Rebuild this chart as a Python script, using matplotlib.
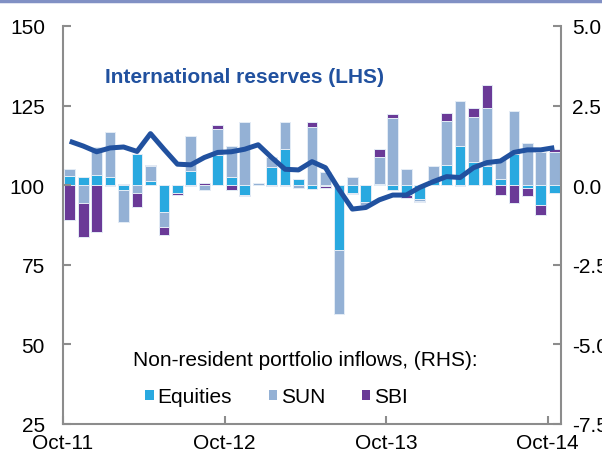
import matplotlib
matplotlib.use("Agg")
import matplotlib.pyplot as plt
from matplotlib.patches import Patch
from matplotlib.lines import Line2D
import numpy as np

plt.rcParams['font.family'] = ['Liberation Sans', 'DejaVu Sans']

# monthly data, Oct-11 .. Oct-14
months = ['Oct-11', 'Nov-11', 'Dec-11', 'Jan-12', 'Feb-12', 'Mar-12', 'Apr-12', 'May-12',
          'Jun-12', 'Jul-12', 'Aug-12', 'Sep-12', 'Oct-12', 'Nov-12', 'Dec-12', 'Jan-13',
          'Feb-13', 'Mar-13', 'Apr-13', 'May-13', 'Jun-13', 'Jul-13', 'Aug-13', 'Sep-13',
          'Oct-13', 'Nov-13', 'Dec-13', 'Jan-14', 'Feb-14', 'Mar-14', 'Apr-14', 'May-14',
          'Jun-14', 'Jul-14', 'Aug-14', 'Sep-14', 'Oct-14']

# international reserves (LHS)
reserves = [113.8, 112.3, 110.5, 111.7, 112.0, 110.6, 116.2, 111.3, 106.6, 106.4,
            108.7, 110.3, 110.5, 111.3, 112.7, 108.7, 105.0, 104.8, 107.4, 105.5,
            98.7, 92.5, 93.0, 95.4, 96.9, 96.9, 99.3, 101.1, 102.7, 102.4,
            105.5, 107.1, 107.6, 110.3, 111.1, 111.1, 111.8]

# non-resident portfolio inflows (RHS)
equities = [0.29, 0.26, 0.31, 0.25, -0.15, 0.97, 0.14, -0.83, -0.23, 0.45,
            0.01, 0.94, 0.26, -0.32, 0.0, 0.58, 1.13, 0.18, -0.12, -0.04,
            -2.04, -0.25, -0.54, 0.04, -0.16, -0.31, -0.44, 0.17, 0.64, 1.24,
            0.73, 0.61, 0.19, 0.98, -0.10, -0.63, -0.26]
sun = [0.21, -0.57, 0.90, 1.43, -1.00, -0.26, 0.47, -0.48, 0.0, 1.08,
       -0.15, 0.84, 0.96, 2.00, 0.07, 0.29, 0.87, -0.10, 1.83, 0.42,
       -2.01, 0.26, -0.08, 0.83, 2.10, 0.50, -0.05, 0.43, 1.38, 1.39,
       1.41, 1.81, 0.63, 1.36, 1.34, 1.05, 1.03]
sbi = [-1.10, -1.05, -1.47, -0.02, 0.05, -0.42, 0.02, -0.26, -0.07, -0.02,
       0.06, 0.10, -0.15, -0.03, 0.0, -0.03, -0.02, 0.03, 0.14, -0.05,
       0.0, -0.04, 0.0, 0.26, 0.14, -0.10, -0.03, 0.0, 0.24, -0.04,
       0.29, 0.73, -0.31, -0.56, -0.24, -0.30, 0.12]

series = [('Equities', equities, '#29a9e0'),
          ('SUN', sun, '#94b1d5'),
          ('SBI', sbi, '#6a3a97')]

tick_labels = ['Oct-11', 'Oct-12', 'Oct-13', 'Oct-14']

x = np.arange(len(months))
grey = '#8c8c8c'
navy = '#21519f'
fs = 15

fig = plt.figure(figsize=(6.02, 4.60), dpi=100)
ax = fig.add_axes([63 / 602, 35 / 460, 498 / 602, 398 / 460])
ax2 = ax.twinx()

# stacked bars, positives up and negatives down
pos = np.zeros(len(x))
neg = np.zeros(len(x))
for name, vals, col in series:
    v = np.array(vals)
    bottom = np.where(v >= 0, pos, neg)
    ax2.bar(x, v, bottom=bottom, width=0.8, color=col,
            edgecolor='#e3ecf6', linewidth=0.7, zorder=2)
    pos += np.where(v >= 0, v, 0)
    neg += np.where(v < 0, v, 0)

ax.plot(x, reserves, color=navy, lw=3.6, solid_capstyle='butt', zorder=5)
ax.set_zorder(ax2.get_zorder() + 1)
ax.patch.set_visible(False)

ax.set_ylim(25, 150)
ax.set_yticks([25, 50, 75, 100, 125, 150])
ax2.set_ylim(-7.5, 5.0)
ax2.set_yticks([-7.5, -5.0, -2.5, 0.0, 2.5, 5.0])
ax2.set_yticklabels(['%.1f' % t for t in [-7.5, -5.0, -2.5, 0.0, 2.5, 5.0]])
ax.set_xlim(-0.5, len(x) - 0.5)
ax.set_xticks([-0.5, 11.5, 23.5, 35.5])
ax.set_xticklabels(tick_labels)

for a in (ax, ax2):
    for s in a.spines.values():
        s.set_color(grey)
        s.set_linewidth(1.5)
    a.spines['top'].set_visible(False)
ax.spines['right'].set_visible(False)
ax2.spines['left'].set_visible(False)
ax2.spines['bottom'].set_visible(False)

ax.tick_params(axis='y', direction='in', length=6, width=1.5, color=grey,
               labelsize=fs, pad=13)
ax.tick_params(axis='x', direction='in', length=6, width=1.5, color=grey,
               labelsize=fs, pad=6.5)
ax2.tick_params(axis='y', direction='in', length=6, width=1.5, color=grey,
                labelsize=fs, pad=8)

ax.text(0.084, 0.874, 'International reserves (LHS)', transform=ax.transAxes,
        fontsize=fs, fontweight='bold', color=navy, va='center', ha='left')
ax.text(0.140, 0.161, 'Non-resident portfolio inflows, (RHS):', transform=ax.transAxes,
        fontsize=fs, color='black', va='center', ha='left')

handles = [Patch(facecolor=c, edgecolor='none', label=n) for n, _, c in series]
ax.legend(handles=handles, loc='center left', bbox_to_anchor=(0.165, 0.068),
          ncol=3, frameon=False, fontsize=fs, handlelength=0.4, handleheight=0.4,
          handletextpad=0.2, columnspacing=1.75, borderpad=0, borderaxespad=0)

# thin rule along the top edge
fig.add_artist(Line2D([0, 1], [1 - 1.5 / 460] * 2, color='#8190c4', lw=2.5))

fig.savefig('out.png', dpi=100)
